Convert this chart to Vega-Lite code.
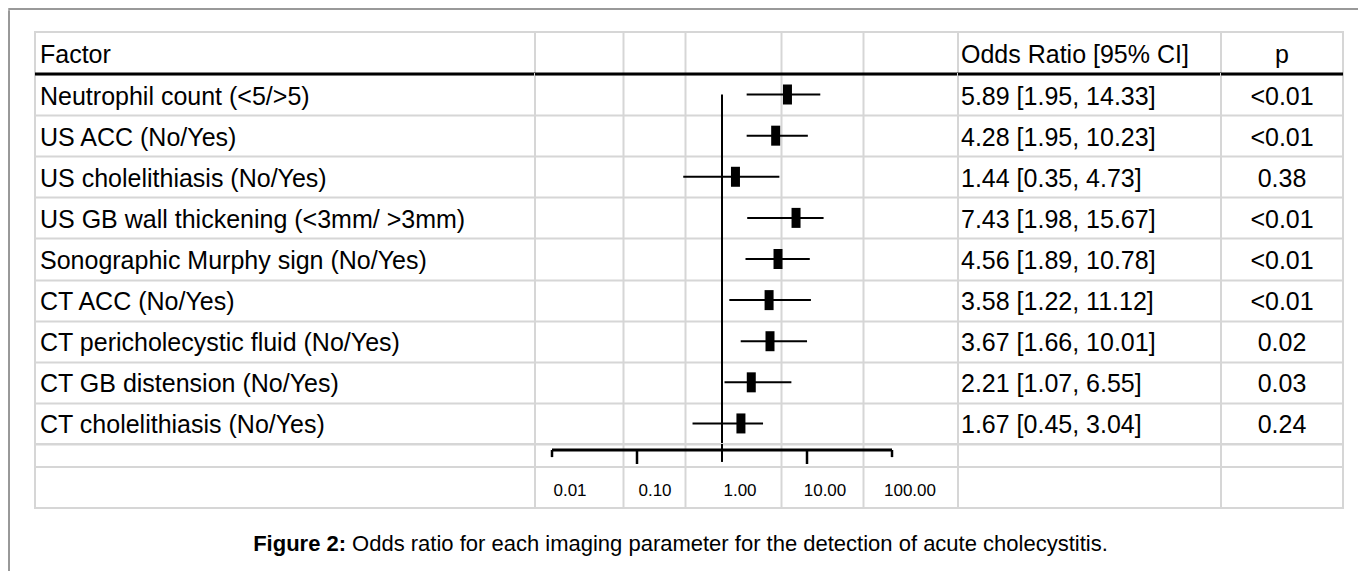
{
 "$schema": "https://vega.github.io/schema/vega-lite/v6.json",
 "padding": {"left": 8, "top": 8, "right": 0, "bottom": 0},
 "background": "white",
 "datasets": {
  "rows": [
   {"factor": "Neutrophil count (<5/>5)", "OR": 5.89, "lo": 1.95, "hi": 14.33, "label": "5.89 [1.95, 14.33]", "p": "<0.01"},
   {"factor": "US ACC (No/Yes)", "OR": 4.28, "lo": 1.95, "hi": 10.23, "label": "4.28 [1.95, 10.23]", "p": "<0.01"},
   {"factor": "US cholelithiasis (No/Yes)", "OR": 1.44, "lo": 0.35, "hi": 4.73, "label": "1.44 [0.35, 4.73]", "p": "0.38"},
   {"factor": "US GB wall thickening (<3mm/ >3mm)", "OR": 7.43, "lo": 1.98, "hi": 15.67, "label": "7.43 [1.98, 15.67]", "p": "<0.01"},
   {"factor": "Sonographic Murphy sign (No/Yes)", "OR": 4.56, "lo": 1.89, "hi": 10.78, "label": "4.56 [1.89, 10.78]", "p": "<0.01"},
   {"factor": "CT ACC (No/Yes)", "OR": 3.58, "lo": 1.22, "hi": 11.12, "label": "3.58 [1.22, 11.12]", "p": "<0.01"},
   {"factor": "CT pericholecystic fluid (No/Yes)", "OR": 3.67, "lo": 1.66, "hi": 10.01, "label": "3.67 [1.66, 10.01]", "p": "0.02"},
   {"factor": "CT GB distension (No/Yes)", "OR": 2.21, "lo": 1.07, "hi": 6.55, "label": "2.21 [1.07, 6.55]", "p": "0.03"},
   {"factor": "CT cholelithiasis (No/Yes)", "OR": 1.67, "lo": 0.45, "hi": 3.04, "label": "1.67 [0.45, 3.04]", "p": "0.24"}
  ],
  "ticks": [
   {"v": 0.01, "lab": "0.01", "kind": "end"},
   {"v": 0.1, "lab": "0.10", "kind": "mid"},
   {"v": 1, "lab": "1.00", "kind": "center"},
   {"v": 10, "lab": "10.00", "kind": "mid"},
   {"v": 100, "lab": "100.00", "kind": "end"}
  ],
  "caption": [{"bold": "Figure 2:", "rest": "Odds ratio for each imaging parameter for the detection of acute cholecystitis."}]
 },
 "config": {
  "view": {"stroke": "#d6d6d6", "strokeWidth": 2},
  "font": "Liberation Sans",
  "text": {"fontSize": 25, "color": "black", "dy": 2},
  "axis": {"minExtent": 0, "maxExtent": 0}
 },
 "spacing": 0,
 "vconcat": [
  {"width": 1350, "height": 0.01, "data": {"values": []}, "mark": "point", "view": {"stroke": "#777777", "strokeWidth": 1.5}},
  {"spacing": 22, "hconcat": [
   {"width": 0.01, "height": 563, "data": {"values": []}, "mark": "point", "view": {"stroke": "#777777", "strokeWidth": 1.5}},
   {"spacing": 19, "vconcat": [
    {"width": 0.01, "height": 0.01, "data": {"values": []}, "mark": "point", "view": {"stroke": null}},
    {"columns": 4, "spacing": 0, "bounds": "flush", "align": "each", "concat": [
      {"width": 500, "height": 42, "data": {"values": [{"h": "Factor"}]}, "mark": {"type": "text", "align": "left", "dx": 5},
       "encoding": {"x": {"datum": 0, "type": "quantitative", "scale": {"domain": [0, 1]}, "axis": null}, "text": {"field": "h"}}},
      {"width": 423, "height": 42, "data": {"values": []}, "mark": "point",
       "encoding": {"x": {"field": "v", "type": "quantitative", "scale": {"type": "log", "domain": [0.0063096, 597.6], "nice": false}, "axis": {"orient": "bottom", "grid": true, "values": [0.0679, 0.367, 4.905, 45.2], "gridColor": "#d6d6d6", "gridWidth": 2, "labels": false, "ticks": false, "domain": false, "title": null}}}},
      {"width": 263, "height": 42, "data": {"values": [{"h": "Odds Ratio [95% CI]"}]}, "mark": {"type": "text", "align": "left", "dx": 3},
       "encoding": {"x": {"datum": 0, "type": "quantitative", "scale": {"domain": [0, 1]}, "axis": null}, "text": {"field": "h"}}},
      {"width": 122, "height": 42, "data": {"values": [{"h": "p"}]}, "mark": {"type": "text", "align": "center"},
       "encoding": {"x": {"datum": 0.5, "type": "quantitative", "scale": {"domain": [0, 1]}, "axis": null}, "text": {"field": "h"}}},

      {"width": 500, "height": 370, "data": {"name": "rows"}, "layer": [
       {"mark": {"type": "text", "align": "left", "dx": 5},
        "encoding": {"x": {"datum": 0, "type": "quantitative", "scale": {"domain": [0, 1]}, "axis": null},
         "y": {"field": "factor", "type": "nominal", "sort": null, "scale": {"paddingInner": 0, "paddingOuter": 0}, "axis": {"grid": true, "tickBand": "extent", "gridColor": "#d6d6d6", "gridWidth": 2, "labels": false, "ticks": false, "domain": false, "title": null}},
         "text": {"field": "factor"}}},
       {"data": {"values": [{}]}, "mark": {"type": "rule", "color": "black", "strokeWidth": 3},
        "encoding": {"y": {"datum": "Neutrophil count (<5/>5)", "type": "nominal", "bandPosition": 0}}}
      ]},
      {"width": 423, "height": 370, "data": {"name": "rows"}, "layer": [
       {"mark": {"type": "rule", "color": "black", "strokeWidth": 2},
        "encoding": {"x": {"field": "lo", "type": "quantitative", "scale": {"type": "log", "domain": [0.0063096, 597.6], "nice": false}, "axis": {"orient": "bottom", "grid": true, "values": [0.0679, 0.367, 4.905, 45.2], "gridColor": "#d6d6d6", "gridWidth": 2, "labels": false, "ticks": false, "domain": false, "title": null}},
         "x2": {"field": "hi"},
         "y": {"field": "factor", "type": "nominal", "sort": null, "scale": {"paddingInner": 0, "paddingOuter": 0}, "axis": {"grid": true, "tickBand": "extent", "gridColor": "#d6d6d6", "gridWidth": 2, "labels": false, "ticks": false, "domain": false, "title": null}}}},
       {"mark": {"type": "tick", "color": "black", "thickness": 9, "size": 20, "opacity": 1},
        "encoding": {"x": {"field": "OR", "type": "quantitative"}, "y": {"field": "factor", "type": "nominal", "sort": null}}},
       {"data": {"values": [{}]}, "mark": {"type": "rule", "color": "black", "strokeWidth": 2},
        "encoding": {"x": {"datum": 1, "type": "quantitative"}, "y": {"datum": "Neutrophil count (<5/>5)", "type": "nominal", "bandPosition": 0.5}, "y2": {"value": "height"}}},
       {"data": {"values": [{}]}, "mark": {"type": "rule", "color": "black", "strokeWidth": 3},
        "encoding": {"y": {"datum": "Neutrophil count (<5/>5)", "type": "nominal", "bandPosition": 0}}}
      ]},
      {"width": 263, "height": 370, "data": {"name": "rows"}, "layer": [
       {"mark": {"type": "text", "align": "left", "dx": 3},
        "encoding": {"x": {"datum": 0, "type": "quantitative", "scale": {"domain": [0, 1]}, "axis": null},
         "y": {"field": "factor", "type": "nominal", "sort": null, "scale": {"paddingInner": 0, "paddingOuter": 0}, "axis": {"grid": true, "tickBand": "extent", "gridColor": "#d6d6d6", "gridWidth": 2, "labels": false, "ticks": false, "domain": false, "title": null}},
         "text": {"field": "label"}}},
       {"data": {"values": [{}]}, "mark": {"type": "rule", "color": "black", "strokeWidth": 3},
        "encoding": {"y": {"datum": "Neutrophil count (<5/>5)", "type": "nominal", "bandPosition": 0}}}
      ]},
      {"width": 122, "height": 370, "data": {"name": "rows"}, "layer": [
       {"mark": {"type": "text", "align": "center"},
        "encoding": {"x": {"datum": 0.5, "type": "quantitative", "scale": {"domain": [0, 1]}, "axis": null},
         "y": {"field": "factor", "type": "nominal", "sort": null, "scale": {"paddingInner": 0, "paddingOuter": 0}, "axis": {"grid": true, "tickBand": "extent", "gridColor": "#d6d6d6", "gridWidth": 2, "labels": false, "ticks": false, "domain": false, "title": null}},
         "text": {"field": "p"}}},
       {"data": {"values": [{}]}, "mark": {"type": "rule", "color": "black", "strokeWidth": 3},
        "encoding": {"y": {"datum": "Neutrophil count (<5/>5)", "type": "nominal", "bandPosition": 0}}}
      ]},

      {"width": 500, "height": 23, "data": {"values": [{"h": ""}]}, "mark": {"type": "text"},
       "encoding": {"x": {"datum": 0, "type": "quantitative", "scale": {"domain": [0, 1]}, "axis": null}, "text": {"field": "h"}}},
      {"width": 423, "height": 23, "data": {"name": "ticks"}, "layer": [
       {"mark": {"type": "rule", "color": "black", "strokeWidth": 3},
        "encoding": {"x": {"aggregate": "min", "field": "v", "type": "quantitative", "scale": {"type": "log", "domain": [0.0063096, 597.6], "nice": false}, "axis": {"orient": "bottom", "grid": true, "values": [0.0679, 0.367, 4.905, 45.2], "gridColor": "#d6d6d6", "gridWidth": 2, "labels": false, "ticks": false, "domain": false, "title": null}},
         "x2": {"aggregate": "max", "field": "v"},
         "y": {"datum": 0.26, "type": "quantitative", "scale": {"domain": [0, 1], "reverse": true}, "axis": null}}},
       {"transform": [{"filter": "datum.kind == 'end'"}], "mark": {"type": "rule", "color": "black", "strokeWidth": 2.5},
        "encoding": {"x": {"field": "v", "type": "quantitative"}, "y": {"datum": 0.26, "type": "quantitative"}, "y2": {"datum": 0.57}}},
       {"transform": [{"filter": "datum.kind == 'mid'"}], "mark": {"type": "rule", "color": "black", "strokeWidth": 2.5},
        "encoding": {"x": {"field": "v", "type": "quantitative"}, "y": {"datum": 0.26, "type": "quantitative"}, "y2": {"datum": 0.87}}},
       {"transform": [{"filter": "datum.kind == 'center'"}], "mark": {"type": "rule", "color": "black", "strokeWidth": 2},
        "encoding": {"x": {"field": "v", "type": "quantitative"}, "y": {"datum": 0, "type": "quantitative"}, "y2": {"datum": 0.78}}}
      ]},
      {"width": 263, "height": 23, "data": {"values": [{"h": ""}]}, "mark": {"type": "text"},
       "encoding": {"x": {"datum": 0, "type": "quantitative", "scale": {"domain": [0, 1]}, "axis": null}, "text": {"field": "h"}}},
      {"width": 122, "height": 23, "data": {"values": [{"h": ""}]}, "mark": {"type": "text"},
       "encoding": {"x": {"datum": 0, "type": "quantitative", "scale": {"domain": [0, 1]}, "axis": null}, "text": {"field": "h"}}},

      {"width": 500, "height": 41, "data": {"values": [{"h": ""}]}, "mark": {"type": "text"},
       "encoding": {"x": {"datum": 0, "type": "quantitative", "scale": {"domain": [0, 1]}, "axis": null}, "text": {"field": "h"}}},
      {"width": 423, "height": 41, "data": {"name": "ticks"}, "mark": {"type": "text", "fontSize": 17, "dx": 18, "dy": 3},
       "encoding": {"x": {"field": "v", "type": "quantitative", "scale": {"type": "log", "domain": [0.0063096, 597.6], "nice": false}, "axis": {"orient": "bottom", "grid": true, "values": [0.0679, 0.367, 4.905, 45.2], "gridColor": "#d6d6d6", "gridWidth": 2, "labels": false, "ticks": false, "domain": false, "title": null}},
        "text": {"field": "lab"}}},
      {"width": 263, "height": 41, "data": {"values": [{"h": ""}]}, "mark": {"type": "text"},
       "encoding": {"x": {"datum": 0, "type": "quantitative", "scale": {"domain": [0, 1]}, "axis": null}, "text": {"field": "h"}}},
      {"width": 122, "height": 41, "data": {"values": [{"h": ""}]}, "mark": {"type": "text"},
       "encoding": {"x": {"datum": 0, "type": "quantitative", "scale": {"domain": [0, 1]}, "axis": null}, "text": {"field": "h"}}}
    ]},
    {"width": 1308, "height": 32, "data": {"name": "caption"}, "view": {"stroke": null}, "layer": [
     {"mark": {"type": "text", "align": "right", "fontWeight": "bold", "fontSize": 22, "dy": 0},
      "encoding": {"x": {"datum": 0.2378, "type": "quantitative", "scale": {"domain": [0, 1]}, "axis": null}, "text": {"field": "bold"}}},
     {"mark": {"type": "text", "align": "left", "fontSize": 22, "dx": 6, "dy": 0},
      "encoding": {"x": {"datum": 0.2378, "type": "quantitative"}, "text": {"field": "rest"}}}
    ]}
   ]}
  ]}
 ]
}
